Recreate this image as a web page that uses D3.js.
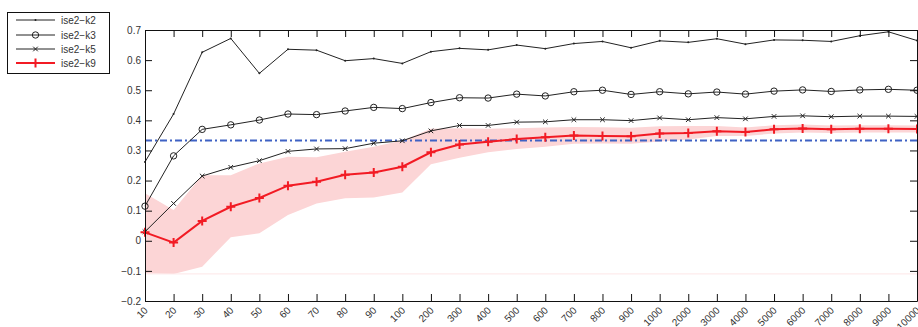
<!DOCTYPE html>
<html>
<head>
<meta charset="utf-8">
<script src="https://cdn.jsdelivr.net/npm/d3@7"></script>
<style>
  body { margin: 0; background: #fff; }
  svg text { font-family: "Liberation Sans", Arial, Helvetica, sans-serif; }
</style>
</head>
<body>
<div id="chart"></div>
<script>
// categories on the x axis (evenly spaced)
const categories = ["10", "20", "30", "40", "50", "60", "70", "80", "90", "100",
  "200", "300", "400", "500", "600", "700", "800", "900", "1000",
  "2000", "3000", "4000", "5000", "6000", "7000", "8000", "9000", "10000"];

const k2 = [0.262, 0.421, 0.626, 0.672, 0.556, 0.636, 0.633, 0.598, 0.605, 0.589,
  0.628, 0.639, 0.634, 0.650, 0.638, 0.655, 0.662, 0.641, 0.664,
  0.659, 0.671, 0.653, 0.667, 0.666, 0.662, 0.681, 0.694, 0.665];
const k3 = [0.115, 0.282, 0.370, 0.385, 0.401, 0.421, 0.419, 0.431, 0.443, 0.439,
  0.459, 0.475, 0.474, 0.487, 0.481, 0.495, 0.500, 0.486, 0.495,
  0.488, 0.494, 0.487, 0.497, 0.501, 0.496, 0.501, 0.503, 0.500];
const k5 = [0.030, 0.124, 0.215, 0.244, 0.266, 0.297, 0.305, 0.306, 0.324, 0.332,
  0.365, 0.383, 0.383, 0.394, 0.395, 0.402, 0.402, 0.399, 0.408,
  0.402, 0.409, 0.405, 0.413, 0.415, 0.412, 0.414, 0.414, 0.413];
const k9 = [0.028, -0.006, 0.066, 0.113, 0.142, 0.183, 0.196, 0.219, 0.227, 0.246,
  0.294, 0.320, 0.329, 0.338, 0.344, 0.350, 0.348, 0.347, 0.356,
  0.358, 0.364, 0.361, 0.370, 0.373, 0.370, 0.372, 0.372, 0.371];
// spread band around k9
const k9Low = [-0.108, -0.110, -0.086, 0.012, 0.025, 0.086, 0.124, 0.141, 0.144, 0.160,
  0.254, 0.276, 0.294, 0.305, 0.312, 0.322, 0.323, 0.322, 0.330,
  0.336, 0.348, 0.348, 0.356, 0.360, 0.358, 0.360, 0.360, 0.360];
const k9High = [0.158, 0.102, 0.218, 0.218, 0.257, 0.279, 0.277, 0.296, 0.312, 0.333,
  0.372, 0.374, 0.372, 0.374, 0.376, 0.378, 0.377, 0.375, 0.380,
  0.381, 0.381, 0.376, 0.384, 0.386, 0.383, 0.384, 0.384, 0.383];
const chanceLevel = 1 / 3;
const yTicks = [-0.2, -0.1, 0, 0.1, 0.2, 0.3, 0.4, 0.5, 0.6, 0.7];
const seriesNames = ["ise2\u2212k2", "ise2\u2212k3", "ise2\u2212k5", "ise2\u2212k9"];

const width = 918, height = 327;
const plotLeft = 145, plotRight = 917, plotTop = 30, plotBottom = 301;

const svg = d3.select("#chart").append("svg").attr("width", width).attr("height", height);

const x = d3.scalePoint().domain(categories).range([plotLeft, plotRight]);
const y = d3.scaleLinear().domain([-0.2, 0.7]).range([plotBottom, plotTop]);

// band
const band = categories.map((c, i) => ({ c, lo: k9Low[i], hi: k9High[i] }));
svg.append("path")
  .datum(band)
  .attr("d", d3.area().x(d => x(d.c)).y0(d => y(d.lo)).y1(d => y(d.hi)))
  .attr("fill", "#fcd5d6");

// faint baseline left by the fill
svg.append("line")
  .attr("x1", plotLeft).attr("x2", plotRight)
  .attr("y1", y(-0.11)).attr("y2", y(-0.11))
  .attr("stroke", "#fde6e7").attr("stroke-width", 1);

// chance level
svg.append("line")
  .attr("x1", plotLeft).attr("x2", plotRight)
  .attr("y1", y(chanceLevel)).attr("y2", y(chanceLevel))
  .attr("stroke", "#3f62c4").attr("stroke-width", 2)
  .attr("stroke-dasharray", "7,3,2,3");

const line = d3.line().x((d, i) => x(categories[i])).y(d => y(d));

// marker helpers
function drawMarker(g, type, cx, cy) {
  if (type === "dot") {
    g.append("circle").attr("cx", cx).attr("cy", cy).attr("r", 1).attr("fill", "#222");
  } else if (type === "circle") {
    g.append("circle").attr("cx", cx).attr("cy", cy).attr("r", 3.2)
      .attr("fill", "none").attr("stroke", "#222").attr("stroke-width", 1);
  } else if (type === "x") {
    const s = 2.3;
    g.append("path").attr("d", `M${cx - s},${cy - s}L${cx + s},${cy + s}M${cx - s},${cy + s}L${cx + s},${cy - s}`)
      .attr("stroke", "#222").attr("stroke-width", 1);
  } else if (type === "plus") {
    const s = 4.5;
    g.append("path").attr("d", `M${cx - s},${cy}L${cx + s},${cy}M${cx},${cy - s}L${cx},${cy + s}`)
      .attr("stroke", "#f21b24").attr("stroke-width", 2);
  }
}

const series = [
  { values: k2, color: "#222", w: 1, marker: "dot" },
  { values: k3, color: "#222", w: 1, marker: "circle" },
  { values: k5, color: "#222", w: 1, marker: "x" },
  { values: k9, color: "#f21b24", w: 2, marker: "plus" }
];

series.forEach(s => {
  svg.append("path")
    .datum(s.values)
    .attr("d", line)
    .attr("fill", "none")
    .attr("stroke", s.color)
    .attr("stroke-width", s.w);
  const g = svg.append("g");
  s.values.forEach((v, i) => drawMarker(g, s.marker, x(categories[i]), y(v)));
});

// axes
const tickLen = 7;
const xAxis = svg.append("g")
  .attr("transform", `translate(0,${plotBottom})`)
  .call(d3.axisBottom(x).tickSizeInner(-tickLen).tickSizeOuter(0).tickPadding(0));
xAxis.selectAll("text")
  .attr("text-anchor", "end")
  .attr("dy", null)
  .attr("y", 0)
  .attr("transform", "translate(3,10) rotate(-45)");

svg.append("g")
  .attr("transform", `translate(0,${plotTop})`)
  .call(d3.axisTop(x).tickSizeInner(-tickLen).tickSizeOuter(0).tickFormat(""));

svg.append("g")
  .attr("transform", `translate(${plotLeft},0)`)
  .call(d3.axisLeft(y).tickValues(yTicks).tickSizeInner(-tickLen).tickSizeOuter(0)
    .tickPadding(4).tickFormat(d3.format("~g")));

svg.append("g")
  .attr("transform", `translate(${plotRight},0)`)
  .call(d3.axisRight(y).tickValues(yTicks).tickSizeInner(-tickLen).tickSizeOuter(0).tickFormat(""));

svg.selectAll(".tick text").attr("font-size", 10).attr("fill", "#333")
  .attr("font-family", "'Liberation Sans', Arial, sans-serif");
svg.selectAll(".domain, .tick line").attr("stroke", "#111");

// legend
const lg = svg.append("g");
lg.append("rect").attr("x", 7.5).attr("y", 12.5).attr("width", 102).attr("height", 61)
  .attr("fill", "#fff").attr("stroke", "#111").attr("stroke-width", 1);
const rowY = [20, 35, 49, 63];
series.forEach((s, i) => {
  lg.append("line").attr("x1", 16).attr("x2", 55).attr("y1", rowY[i]).attr("y2", rowY[i])
    .attr("stroke", s.color).attr("stroke-width", s.w);
  drawMarker(lg, s.marker, 35.5, rowY[i]);
  lg.append("text").attr("x", 61).attr("y", rowY[i]).attr("dy", "0.35em")
    .attr("font-size", 10).attr("fill", "#333").text(seriesNames[i]);
});
</script>
</body>
</html>
